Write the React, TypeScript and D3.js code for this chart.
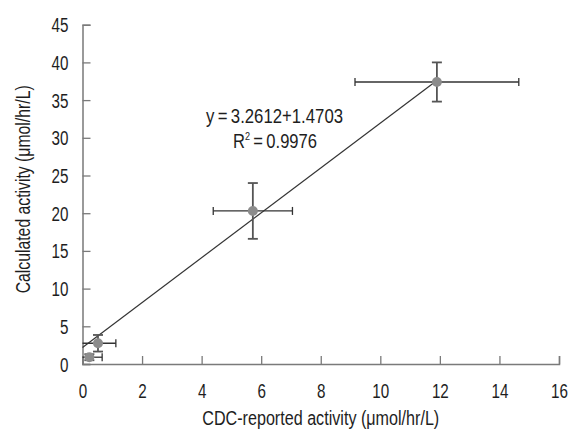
import React, { useEffect, useRef } from 'react';
import * as d3 from 'd3';

// measured points (CDC-reported vs calculated), with error half-widths
const cdcValues = [0.23, 0.52, 5.72, 11.9];
const calcValues = [0.9, 2.75, 20.3, 37.4];
const cdcErrors = [0.43, 0.6, 1.33, 2.75];
const calcErrors = [0.4, 1.1, 3.7, 2.6];

// fitted line end points
const fitX = [0, 11.9];
const fitY = [2.2, 37.6];

const xTicks = [0, 2, 4, 6, 8, 10, 12, 14, 16];
const yTicks = [0, 5, 10, 15, 20, 25, 30, 35, 40, 45];

const equationText = 'y\u2009=\u20093.2612+1.4703';
const r2Text = '\u2009=\u20090.9976';

function App() {
  const svgRef = useRef<SVGSVGElement | null>(null);

  useEffect(() => {
    if (!svgRef.current) return;
    const width = 568;
    const height = 436;
    const margin = { top: 24.7, right: 9, bottom: 72, left: 82.5 };
    const font = '"Liberation Sans", Arial, sans-serif';
    const squeeze = 0.78; // the original uses a condensed face

    const svg = d3.select(svgRef.current);
    svg.selectAll('*').remove();
    svg.attr('width', width).attr('height', height);

    svg.append('rect').attr('width', width).attr('height', height).attr('fill', '#fff');

    const x = d3.scaleLinear().domain([0, 16]).range([margin.left, width - margin.right]);
    const y = d3.scaleLinear().domain([0, 45]).range([height - margin.bottom, margin.top]);

    const axisColor = '#7a7a7a';

    const xAxis = svg.append('g')
      .attr('transform', `translate(0,${y(0)})`)
      .call(d3.axisBottom(x).tickValues(xTicks).tickSize(-8).tickPadding(14).tickFormat(d3.format('d')));
    const yAxis = svg.append('g')
      .attr('transform', `translate(${x(0)},0)`)
      .call(d3.axisLeft(y).tickValues(yTicks).tickSize(-8).tickPadding(14).tickFormat(d3.format('d')));

    [xAxis, yAxis].forEach(g => {
      g.select('.domain').attr('stroke', axisColor).attr('stroke-width', 1.5);
      g.selectAll('.tick line').attr('stroke', axisColor).attr('stroke-width', 1.3);
      g.selectAll('.tick text')
        .attr('fill', '#1e1e1e')
        .style('font-family', font)
        .style('font-size', '19.5px');
    });
    xAxis.selectAll('.tick text')
      .attr('y', 0)
      .attr('dy', 0)
      .attr('transform', `translate(0,34) scale(${squeeze},1)`);
    yAxis.selectAll('.tick text')
      .attr('x', 0)
      .attr('dy', '0.36em')
      .attr('transform', `translate(-14,0) scale(${squeeze},1)`);

    // axis titles
    svg.append('text')
      .attr('x', (x(0) + x(16)) / 2)
      .attr('y', 425)
      .attr('text-anchor', 'middle')
      .attr('fill', '#1e1e1e')
      .attr('textLength', 237)
      .attr('lengthAdjust', 'spacingAndGlyphs')
      .style('font-family', font)
      .style('font-size', '19.5px')
      .text('CDC-reported activity (\u03bcmol/hr/L)');

    svg.append('text')
      .attr('transform', `translate(30,${(y(0) + y(45)) / 2 - 5}) rotate(-90)`)
      .attr('text-anchor', 'middle')
      .attr('fill', '#1e1e1e')
      .attr('textLength', 208)
      .attr('lengthAdjust', 'spacingAndGlyphs')
      .style('font-family', font)
      .style('font-size', '19.5px')
      .text('Calculated activity (\u03bcmol/hr/L)');

    // fitted line
    const line = d3.line<number>().x((d, i) => x(fitX[i])).y(d => y(d));
    svg.append('path')
      .attr('d', line(fitY))
      .attr('fill', 'none')
      .attr('stroke', '#333')
      .attr('stroke-width', 1.2);

    const pts = cdcValues.map((v, i) => ({ cx: v, cy: calcValues[i], ex: cdcErrors[i], ey: calcErrors[i] }));
    const g = svg.append('g');

    // horizontal error bars
    pts.forEach(p => {
      const x0 = Math.max(x(p.cx - p.ex), x(0));
      const x1 = x(p.cx + p.ex);
      const yy = y(p.cy);
      g.append('line').attr('x1', x0).attr('x2', x1).attr('y1', yy).attr('y2', yy)
        .attr('stroke', '#333').attr('stroke-width', 1.3);
      if (p.cx - p.ex > 0) {
        g.append('line').attr('x1', x0).attr('x2', x0).attr('y1', yy - 4).attr('y2', yy + 4)
          .attr('stroke', '#333').attr('stroke-width', 1.3);
      }
      g.append('line').attr('x1', x1).attr('x2', x1).attr('y1', yy - 4).attr('y2', yy + 4)
        .attr('stroke', '#333').attr('stroke-width', 1.3);
    });

    // vertical error bars
    pts.forEach(p => {
      const xx = x(p.cx);
      const y0 = y(p.cy - p.ey);
      const y1 = y(p.cy + p.ey);
      g.append('line').attr('x1', xx).attr('x2', xx).attr('y1', y0).attr('y2', y1)
        .attr('stroke', '#555').attr('stroke-width', 1.8);
      [y0, y1].forEach(yy => {
        g.append('line').attr('x1', xx - 5).attr('x2', xx + 5).attr('y1', yy).attr('y2', yy)
          .attr('stroke', '#555').attr('stroke-width', 1.8);
      });
    });

    // markers
    g.selectAll('circle.pt')
      .data(pts)
      .enter()
      .append('circle')
      .attr('class', 'pt')
      .attr('cx', d => x(d.cx))
      .attr('cy', d => y(d.cy))
      .attr('r', 5)
      .attr('fill', '#8c8c8c');

    // equation label
    svg.append('text')
      .attr('x', 274.5)
      .attr('y', 122.5)
      .attr('text-anchor', 'middle')
      .attr('fill', '#1e1e1e')
      .attr('textLength', 137)
      .attr('lengthAdjust', 'spacingAndGlyphs')
      .style('font-family', font)
      .style('font-size', '20px')
      .text(equationText);

    const r2t = svg.append('text')
      .attr('x', 233)
      .attr('y', 148)
      .attr('fill', '#1e1e1e')
      .attr('textLength', 84)
      .attr('lengthAdjust', 'spacingAndGlyphs')
      .style('font-family', font)
      .style('font-size', '20px');
    r2t.append('tspan').text('R');
    r2t.append('tspan').attr('font-size', '11px').attr('dy', -8).text('2');
    r2t.append('tspan').attr('dy', 8).text(r2Text);
  }, []);

  return (
    <div style={{ position: 'absolute', left: 0, top: 0 }}>
      <svg ref={svgRef}></svg>
    </div>
  );
}

export default App;
